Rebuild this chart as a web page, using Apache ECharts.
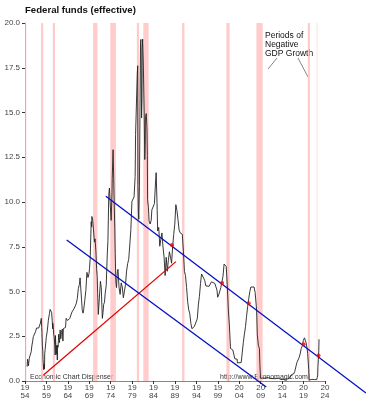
<!DOCTYPE html>
<html><head><meta charset="utf-8">
<script src="https://cdn.jsdelivr.net/npm/echarts@6/dist/echarts.min.js"></script>
<style>html,body{margin:0;padding:0;background:#fff}#c{width:366px;height:400px}</style>
</head><body><div id="c"></div>
<script>
// Effective federal funds rate, [decimal year, percent]
const fedFunds = [
[1954.5,0.80],[1954.6,1.22],[1954.7,1.06],[1954.8,0.85],[1954.9,0.83],[1955.0,1.28],[1955.1,1.39],[1955.25,1.35],[1955.45,1.64],[1955.6,1.96],[1955.8,2.24],[1955.95,2.48],
[1956.2,2.50],[1956.45,2.75],[1956.7,2.96],[1956.95,2.94],[1957.2,2.96],[1957.45,3.00],[1957.6,3.24],[1957.8,3.50],[1957.9,2.98],[1957.95,2.72],
[1958.05,2.00],[1958.15,1.67],[1958.2,1.20],[1958.3,1.26],[1958.37,0.63],[1958.45,0.93],[1958.55,0.68],[1958.6,1.53],[1958.7,1.76],[1958.8,1.80],[1958.9,2.27],[1958.95,2.42],
[1959.2,2.80],[1959.45,3.39],[1959.7,3.76],[1959.85,4.00],[1960.0,3.99],[1960.2,3.84],[1960.35,3.39],[1960.45,2.92],[1960.5,3.23],[1960.6,2.98],[1960.7,2.60],[1960.8,2.47],[1960.85,2.44],[1960.95,1.98],
[1961.05,1.45],[1961.1,2.54],[1961.2,2.02],[1961.3,1.49],[1961.35,1.98],[1961.45,1.73],[1961.55,1.17],[1961.6,2.00],[1961.7,1.88],[1961.8,2.26],[1961.85,2.61],[1961.95,2.33],
[1962.05,2.15],[1962.2,2.85],[1962.35,2.36],[1962.5,2.71],[1962.7,2.90],[1962.85,2.23],[1962.95,2.93],
[1963.2,2.93],[1963.45,2.99],[1963.6,3.50],[1963.8,3.50],[1963.95,3.38],[1964.2,3.48],[1964.45,3.50],[1964.7,3.45],[1964.95,3.85],
[1965.2,3.90],[1965.45,4.04],[1965.7,4.05],[1965.95,4.32],[1966.2,4.60],[1966.45,5.17],[1966.7,5.40],[1966.85,5.76],[1966.95,5.40],
[1967.2,4.53],[1967.35,3.98],[1967.55,3.79],[1967.7,3.99],[1967.95,4.51],[1968.2,5.05],[1968.45,6.07],[1968.7,5.78],[1968.95,6.02],
[1969.05,6.30],[1969.2,6.79],[1969.45,8.90],[1969.55,8.61],[1969.6,9.19],[1969.8,9.00],[1969.95,8.97],
[1970.05,8.98],[1970.2,7.76],[1970.35,7.94],[1970.55,7.21],[1970.7,6.29],[1970.85,5.83],[1970.95,4.90],
[1971.05,4.14],[1971.1,3.72],[1971.2,3.71],[1971.35,4.63],[1971.55,5.40],[1971.6,5.57],[1971.8,5.20],[1971.95,4.14],
[1972.05,3.50],[1972.2,3.83],[1972.35,4.27],[1972.55,4.40],[1972.7,4.87],[1972.95,5.33],
[1973.2,7.09],[1973.35,7.84],[1973.55,10.40],[1973.6,10.50],[1973.7,10.78],[1973.85,10.03],[1973.95,9.95],
[1974.1,8.97],[1974.3,10.51],[1974.35,11.31],[1974.55,12.92],[1974.7,11.34],[1974.8,10.06],[1974.95,8.53],
[1975.05,7.13],[1975.2,5.54],[1975.35,5.22],[1975.55,6.10],[1975.7,6.24],[1975.95,5.20],
[1976.2,4.84],[1976.45,5.48],[1976.7,5.25],[1976.95,4.65],[1977.2,4.69],[1977.45,5.39],[1977.7,6.14],[1977.95,6.56],
[1978.2,6.79],[1978.45,7.60],[1978.7,8.45],[1978.95,10.03],[1979.2,10.09],[1979.45,10.29],[1979.7,11.43],[1979.8,13.77],[1979.95,13.78],
[1980.05,13.82],[1980.2,17.19],[1980.3,17.61],[1980.35,10.98],[1980.45,9.47],[1980.55,9.03],[1980.7,10.87],[1980.85,15.85],[1980.95,18.90],
[1981.05,19.08],[1981.2,14.70],[1981.3,15.72],[1981.35,18.52],[1981.45,19.10],[1981.55,19.04],[1981.6,17.82],[1981.8,15.08],[1981.95,12.37],
[1982.05,13.22],[1982.1,14.78],[1982.3,14.94],[1982.45,14.15],[1982.55,12.59],[1982.6,10.12],[1982.8,9.71],[1982.95,8.95],
[1983.2,8.77],[1983.45,8.98],[1983.6,9.56],[1983.95,9.47],[1984.2,9.91],[1984.45,11.06],[1984.6,11.64],[1984.8,9.99],[1984.95,8.38],
[1985.2,8.58],[1985.45,7.53],[1985.7,7.92],[1985.95,8.27],[1986.2,7.48],[1986.45,6.92],[1986.7,5.89],[1986.95,6.91],
[1987.2,6.13],[1987.45,6.73],[1987.7,7.22],[1987.8,7.29],[1987.95,6.92],[1988.2,6.58],[1988.45,7.51],[1988.7,8.19],[1988.95,8.76],
[1989.2,9.85],[1989.45,9.53],[1989.7,9.01],[1989.95,8.45],[1990.2,8.28],[1990.45,8.29],[1990.7,8.20],[1990.95,7.31],
[1991.2,6.12],[1991.45,5.90],[1991.7,5.22],[1991.95,4.43],[1992.2,3.98],[1992.45,3.76],[1992.7,3.22],[1992.95,2.92],
[1993.2,3.02],[1993.5,3.04],[1993.95,2.96],[1994.2,3.48],[1994.45,4.25],[1994.7,4.73],[1994.95,5.45],
[1995.2,5.98],[1995.45,6.00],[1995.7,5.74],[1995.95,5.60],[1996.2,5.31],[1996.5,5.40],[1996.95,5.29],
[1997.2,5.39],[1997.5,5.54],[1997.95,5.50],[1998.3,5.45],[1998.7,5.51],[1998.8,5.07],[1998.95,4.68],
[1999.2,4.81],[1999.45,4.76],[1999.7,5.22],[1999.95,5.30],[2000.2,5.85],[2000.45,6.53],[2000.95,6.40],
[2001.05,5.98],[2001.2,5.31],[2001.45,3.97],[2001.7,3.07],[2001.95,1.82],[2002.5,1.73],[2002.95,1.24],
[2003.5,1.22],[2003.55,1.01],[2003.95,0.98],[2004.45,1.03],[2004.7,1.61],[2004.95,2.16],
[2005.2,2.63],[2005.45,3.04],[2005.7,3.62],[2005.95,4.16],[2006.2,4.59],[2006.45,4.99],[2006.7,5.25],[2006.95,5.24],
[2007.45,5.25],[2007.7,4.94],[2007.95,4.24],[2008.05,3.94],[2008.2,2.61],[2008.45,2.00],[2008.7,1.81],[2008.8,0.97],[2008.95,0.16],
[2009.3,0.15],[2009.7,0.16],[2010.2,0.16],[2010.7,0.19],[2011.2,0.14],[2011.6,0.07],[2012.2,0.13],[2012.7,0.14],[2013.2,0.15],[2013.7,0.08],
[2014.2,0.09],[2014.7,0.09],[2015.2,0.12],[2015.7,0.14],[2015.95,0.24],[2016.2,0.36],[2016.7,0.40],[2016.95,0.54],
[2017.2,0.79],[2017.45,1.04],[2017.95,1.30],[2018.2,1.51],[2018.45,1.82],[2018.7,1.95],[2018.95,2.27],
[2019.2,2.41],[2019.5,2.40],[2019.6,2.13],[2019.8,1.83],[2019.95,1.55],[2020.05,1.55],[2020.1,1.58],[2020.2,0.65],[2020.3,0.05],[2020.95,0.09],
[2021.5,0.08],[2022.05,0.08],[2022.2,0.20],[2022.3,0.33],[2022.35,0.77],[2022.45,1.21],[2022.55,1.68],[2022.6,2.33]
];
// Periods of negative GDP growth [start, end]
const negGdp = [[1954.0,1954.3],[1957.75,1958.25],[1960.5,1961.0],[1969.9,1970.9],[1973.9,1975.2],[1980.1,1980.6],[1981.6,1982.85],[1990.65,1991.2],[2001.0,2001.75],[2008.0,2009.45],[2020.0,2020.5]];
const negGdpFaint = [[2022.0,2022.3]];
const redTrend = [[1958.3,0.5],[1989.1,6.78]];
const blueUpper = [[1972.8,10.4],[2033.3,-0.5]];
const blueLower = [[1963.7,7.98],[2010.1,-0.17]];
const crossDots = [[1988.3,7.6],[2000.0,5.48],[2006.2,4.35],[2019.0,2.05],[2022.5,1.42]];

const chart = echarts.init(document.getElementById('c'));
const FONT = 'Liberation Sans, Arial, sans-serif';
// second (invisible) grid shares the same scale but extends to the page edge, so trend lines can run past the axes
const pxPerYear = 301/70, pxPerUnit = 361/20;
chart.setOption({
  animation:false,
  grid:[{left:25,right:41,top:23,bottom:16},{left:25,right:0,top:23,bottom:0}],
  title:{text:'Federal funds (effective)',left:25,top:5,padding:0,textStyle:{fontFamily:FONT,fontSize:9.6,fontWeight:'bold',color:'#111'}},
  xAxis:[{type:'value',min:1954,max:2024,interval:5,gridIndex:0,
    axisLine:{lineStyle:{color:'#888',width:1}},
    axisTick:{length:3,lineStyle:{color:'#333'}},
    splitLine:{show:false},
    axisLabel:{fontFamily:FONT,fontSize:8,lineHeight:8,color:'#444',margin:3,
      formatter:v=>{const s=String(v);return s.slice(0,2)+'\n'+s.slice(2);}}},
    {type:'value',gridIndex:1,min:1954,max:1954+341/pxPerYear,show:false,splitLine:{show:false}}],
  yAxis:[{type:'value',min:0,max:20,interval:2.5,gridIndex:0,
    axisLine:{show:true,lineStyle:{color:'#888',width:1}},
    axisTick:{show:true,length:3,lineStyle:{color:'#333'}},
    splitLine:{show:false},
    axisLabel:{fontFamily:FONT,fontSize:8,color:'#444',margin:5,formatter:v=>v.toFixed(1)}},
    {type:'value',gridIndex:1,min:-16/pxPerUnit,max:20,show:false,splitLine:{show:false}}],
  series:[
    {type:'line',data:[],silent:true,
      markArea:{silent:true,itemStyle:{color:'rgba(255,185,185,0.75)'},
        data:negGdp.map(p=>[{xAxis:p[0]},{xAxis:p[1]}])}},
    {type:'line',data:[],silent:true,
      markArea:{silent:true,itemStyle:{color:'rgba(255,215,215,0.6)'},
        data:negGdpFaint.map(p=>[{xAxis:p[0]},{xAxis:p[1]}])}},
    {type:'line',data:fedFunds,showSymbol:false,lineStyle:{color:'#222',width:0.9},z:3},
    {type:'line',xAxisIndex:1,yAxisIndex:1,data:redTrend,showSymbol:false,lineStyle:{color:'#e00000',width:1.3},z:4},
    {type:'line',xAxisIndex:1,yAxisIndex:1,data:blueUpper,showSymbol:false,lineStyle:{color:'#0010c0',width:1.3},z:4},
    {type:'line',xAxisIndex:1,yAxisIndex:1,data:blueLower,showSymbol:false,lineStyle:{color:'#0010c0',width:1.3},z:4},
    {type:'scatter',data:crossDots,symbolSize:4,itemStyle:{color:'#ff0000'},z:5}
  ],
  graphic:[
    {type:'text',left:265,top:31,style:{text:'Periods of\nNegative\nGDP Growth',font:'8.5px '+FONT,lineHeight:9,fill:'#111'}},
    {type:'line',shape:{x1:277,y1:58,x2:268,y2:69},style:{stroke:'#555',lineWidth:0.7}},
    {type:'line',shape:{x1:298,y1:58,x2:308,y2:77},style:{stroke:'#555',lineWidth:0.7}},
    {type:'text',left:30,top:374,style:{text:'Economic Chart Dispenser',font:'7px '+FONT,fill:'#333'}},
    {type:'text',left:220,top:374,style:{text:'http://www.Economagic.com/',font:'7px '+FONT,fill:'#333'}}
  ]
});
</script></body></html>
